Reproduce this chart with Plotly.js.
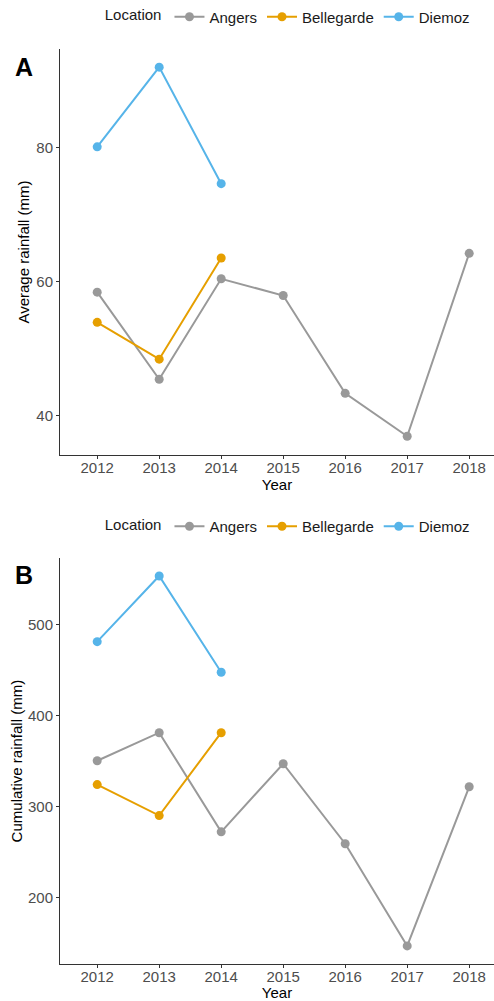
<!DOCTYPE html>
<html><head><meta charset="utf-8">
<script src="https://cdn.plot.ly/plotly-3.0.1.min.js"></script>
<style>html,body{margin:0;padding:0;background:#fff;}</style>
</head><body>
<div id="chart" style="width:494px;height:1001px;"></div>
<script>
const years = [2012, 2013, 2014, 2015, 2016, 2017, 2018];
const yearsShort = [2012, 2013, 2014];
const locations = ["Angers", "Bellegarde", "Diemoz"];
const colors = ["#999999", "#E69F00", "#56B4E9"];

const avgAngers = [58.4, 45.4, 60.4, 57.9, 43.3, 36.9, 64.2];
const avgBellegarde = [53.9, 48.4, 63.5];
const avgDiemoz = [80.1, 92.0, 74.6];

const cumAngers = [350.4, 381.3, 272.1, 347.1, 259.0, 146.4, 321.7];
const cumBellegarde = [324.1, 290.0, 381.3];
const cumDiemoz = [481.6, 554.0, 447.9];

const font = "Liberation Sans, Arial, sans-serif";

function tr(x, y, i, xa, ya, leg) {
  return {
    x: x, y: y, name: locations[i], type: "scatter", mode: "lines+markers",
    xaxis: xa, yaxis: ya, legend: leg,
    line: {color: colors[i], width: 2},
    marker: {color: colors[i], size: 9},
    hoverinfo: "x+y+name"
  };
}

const data = [
  tr(years, avgAngers, 0, "x", "y", "legend"),
  tr(yearsShort, avgBellegarde, 1, "x", "y", "legend"),
  tr(yearsShort, avgDiemoz, 2, "x", "y", "legend"),
  tr(years, cumAngers, 0, "x2", "y2", "legend2"),
  tr(yearsShort, cumBellegarde, 1, "x2", "y2", "legend2"),
  tr(yearsShort, cumDiemoz, 2, "x2", "y2", "legend2")
];

const xbase = {
  range: [2011.4, 2018.4], tickvals: years, ticktext: years.map(String),
  showgrid: false, zeroline: false, showline: true, linecolor: "#333333", linewidth: 1,
  ticks: "outside", ticklen: 3, tickcolor: "#333333", ticklabelstandoff: -4,
  tickfont: {family: font, size: 15, color: "#4d4d4d"},
  title: {text: "Year", font: {family: font, size: 15, color: "#000"}, standoff: 0}
};
const ybase = {
  showgrid: false, zeroline: false, showline: true, linecolor: "#333333", linewidth: 1,
  ticks: "outside", ticklen: 3, tickcolor: "#333333",
  tickfont: {family: font, size: 15, color: "#4d4d4d"}
};

const legbase = {
  orientation: "h", xanchor: "left", yanchor: "middle",
  font: {family: font, size: 15, color: "#1a1a1a"},
  title: {text: "Location", side: "left", font: {family: font, size: 15, color: "#1a1a1a"}},
  itemwidth: 30, tracegroupgap: 0, bgcolor: "rgba(0,0,0,0)"
};

const layout = {
  width: 494, height: 1001,
  margin: {l: 60, r: 0, t: 0, b: 0},
  paper_bgcolor: "#fff", plot_bgcolor: "#fff",
  showlegend: true,
  xaxis: Object.assign({}, xbase, {domain: [0, 1], anchor: "y"}),
  yaxis: Object.assign({}, ybase, {domain: [0.5455, 0.951], anchor: "x", range: [34.1, 94.7],
    tickvals: [40, 60, 80],
    title: {text: "Average rainfall (mm)", font: {family: font, size: 15, color: "#000"}, standoff: 3}}),
  xaxis2: Object.assign({}, xbase, {domain: [0, 1], anchor: "y2"}),
  yaxis2: Object.assign({}, ybase, {domain: [0.037, 0.4423], anchor: "x2", range: [126.5, 573.5],
    tickvals: [200, 300, 400, 500],
    title: {text: "Cumulative rainfall (mm)", font: {family: font, size: 15, color: "#000"}, standoff: 1}}),
  legend: Object.assign({}, legbase, {x: 0.0985, y: 0.983}),
  legend2: Object.assign({}, legbase, {x: 0.0985, y: 0.474}),
  annotations: [
    {text: "<b>A</b>", xref: "paper", yref: "paper", x: -0.083, y: 0.933, showarrow: false,
     font: {family: font, size: 25, color: "#000"}, xanchor: "center", yanchor: "middle"},
    {text: "<b>B</b>", xref: "paper", yref: "paper", x: -0.083, y: 0.426, showarrow: false,
     font: {family: font, size: 25, color: "#000"}, xanchor: "center", yanchor: "middle"}
  ]
};

Plotly.newPlot("chart", data, layout, {displayModeBar: false, responsive: false});
</script>
</body></html>
